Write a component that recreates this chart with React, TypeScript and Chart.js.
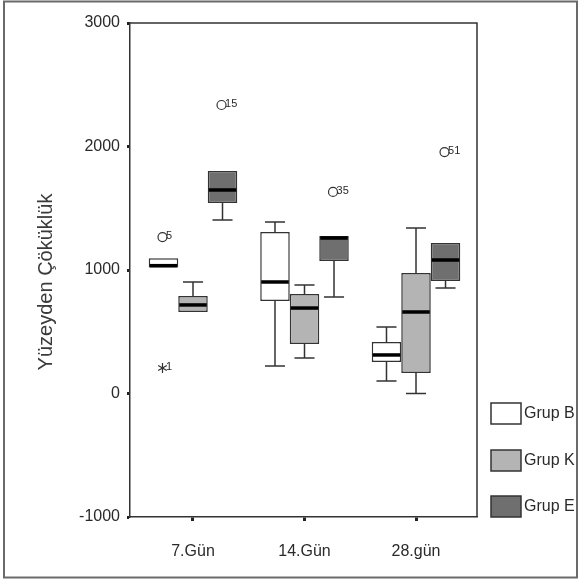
import { useEffect, useRef } from 'react';
import { Chart, registerables } from 'chart.js';

Chart.register(...registerables);

// ---- data ----
const categories = ['7.Gün', '14.Gün', '28.gün'];
const groupNames = ['Grup B', 'Grup K', 'Grup E'];
const groupColors = ['#ffffff', '#b4b4b4', '#6f6f6f'];

// per group: values for [7.Gün, 14.Gün, 28.gün]
const q1B = [1020, 749, 255];
const q3B = [1095, 1308, 417];
const medB = [1035, 903, 312];
const lowB = [1020, 223, 101];
const highB = [1095, 1389, 538];

const q1K = [660, 401, 166];
const q3K = [789, 806, 976];
const medK = [717, 692, 660];
const lowK = [660, 287, 0];
const highK = [903, 879, 1340];

const q1E = [1543, 1073, 911];
const q3E = [1802, 1275, 1219];
const medE = [1648, 1259, 1081];
const lowE = [1405, 781, 854];
const highE = [1802, 1275, 1219];

const outlierGroup = [0, 0, 2, 2, 2];
const outlierCat = [0, 0, 0, 1, 2];
const outlierValue = [1267, 206, 2336, 1632, 1955];
const outlierLabel = ['5', '1', '15', '35', '51'];
const outlierShape = ['circle', 'star', 'circle', 'circle', 'circle'];

const yTicks = [-1000, 0, 1000, 2000, 3000];
const yTitle = 'Yüzeyden Çöküklük';

const q1 = [q1B, q1K, q1E];
const q3 = [q3B, q3K, q3E];
const med = [medB, medK, medE];
const low = [lowB, lowK, lowE];
const high = [highB, highK, highE];

const FONT = "'Liberation Sans', Arial, sans-serif";
const INK = '#2a2a2a';

const extrasPlugin = {
  id: 'boxExtras',
  beforeDraw(chart: any) {
    const { ctx } = chart;
    ctx.save();
    ctx.fillStyle = '#ffffff';
    ctx.fillRect(0, 0, chart.width, chart.height);
    ctx.strokeStyle = '#6a6a6a';
    ctx.lineWidth = 2;
    ctx.strokeRect(4, 1.5, 573, 576);
    ctx.restore();
  },
  afterDatasetsDraw(chart: any) {
    const { ctx, chartArea, scales } = chart;
    const y = scales.y;
    ctx.save();
    // plot frame (top & right)
    ctx.strokeStyle = '#333';
    ctx.lineWidth = 1.5;
    ctx.beginPath();
    ctx.moveTo(chartArea.left, chartArea.top);
    ctx.lineTo(chartArea.right, chartArea.top);
    ctx.lineTo(chartArea.right, chartArea.bottom);
    ctx.stroke();

    // y-axis title
    ctx.save();
    ctx.translate(46, (chartArea.top + chartArea.bottom) / 2 + 12);
    ctx.rotate(-Math.PI / 2);
    ctx.fillStyle = '#3a3a3a';
    ctx.font = `20px ${FONT}`;
    ctx.textAlign = 'center';
    ctx.textBaseline = 'middle';
    ctx.fillText(yTitle, 0, 0);
    ctx.restore();

    chart.data.datasets.forEach((_ds: any, d: number) => {
      const meta = chart.getDatasetMeta(d);
      meta.data.forEach((bar: any, i: number) => {
        const cx = bar.x;
        const w = bar.width;
        const cap = w * 0.68;
        ctx.strokeStyle = '#333';
        ctx.lineWidth = 1.5;
        const yq1 = y.getPixelForValue(q1[d][i]);
        const yq3 = y.getPixelForValue(q3[d][i]);
        const yl = y.getPixelForValue(low[d][i]);
        const yh = y.getPixelForValue(high[d][i]);
        if (high[d][i] > q3[d][i]) {
          ctx.beginPath();
          ctx.moveTo(cx, yq3);
          ctx.lineTo(cx, yh);
          ctx.moveTo(cx - cap / 2, yh);
          ctx.lineTo(cx + cap / 2, yh);
          ctx.stroke();
        }
        if (low[d][i] < q1[d][i]) {
          ctx.beginPath();
          ctx.moveTo(cx, yq1);
          ctx.lineTo(cx, yl);
          ctx.moveTo(cx - cap / 2, yl);
          ctx.lineTo(cx + cap / 2, yl);
          ctx.stroke();
        }
        // median
        const ym = y.getPixelForValue(med[d][i]);
        ctx.strokeStyle = '#000';
        ctx.lineWidth = 3.5;
        ctx.beginPath();
        ctx.moveTo(cx - w / 2 + 1, ym);
        ctx.lineTo(cx + w / 2 - 1, ym);
        ctx.stroke();
      });
    });

    // outliers
    outlierValue.forEach((v, k) => {
      const bar = chart.getDatasetMeta(outlierGroup[k]).data[outlierCat[k]];
      const cx = bar.x - 1;
      const cy = y.getPixelForValue(v);
      ctx.strokeStyle = '#333';
      ctx.lineWidth = 1.2;
      if (outlierShape[k] === 'circle') {
        ctx.beginPath();
        ctx.arc(cx, cy, 4.5, 0, Math.PI * 2);
        ctx.stroke();
      } else {
        ctx.beginPath();
        for (let a = 0; a < 3; a++) {
          const ang = Math.PI / 2 + (a * Math.PI) / 3;
          ctx.moveTo(cx - Math.cos(ang) * 5, cy - Math.sin(ang) * 5);
          ctx.lineTo(cx + Math.cos(ang) * 5, cy + Math.sin(ang) * 5);
        }
        ctx.stroke();
      }
      ctx.fillStyle = INK;
      ctx.font = `11px ${FONT}`;
      ctx.textAlign = 'left';
      ctx.textBaseline = 'middle';
      ctx.fillText(outlierLabel[k], cx + 3.5, cy - 1);
    });

    // legend
    const tops = [403, 450, 496];
    chart.data.datasets.forEach((ds: any, d: number) => {
      const bx = chartArea.right + 14;
      const by = tops[d];
      ctx.fillStyle = ds.backgroundColor;
      ctx.fillRect(bx, by, 30, 21);
      ctx.strokeStyle = '#333';
      ctx.lineWidth = 1.5;
      ctx.strokeRect(bx, by, 30, 21);
      ctx.fillStyle = INK;
      ctx.font = `16px ${FONT}`;
      ctx.textAlign = 'left';
      ctx.textBaseline = 'middle';
      ctx.fillText(ds.label, bx + 33, by + 11);
    });
    ctx.restore();
  },
};

export default function App() {
  const ref = useRef<HTMLCanvasElement | null>(null);
  useEffect(() => {
    if (!ref.current) return;
    const datasets = groupNames.map((name, d) => ({
      label: name,
      data: categories.map((_c, i) => ({ x: i + 1, y: [q1[d][i], q3[d][i]] })),
      backgroundColor: groupColors[d],
      borderColor: '#333',
      borderWidth: 1.5,
      borderSkipped: false,
      barPercentage: 1,
      categoryPercentage: 0.794,
    }));
    const chart = new Chart(ref.current, {
      type: 'bar',
      data: { datasets } as any,
      plugins: [extrasPlugin],
      options: {
        animation: false,
        responsive: false,
        events: [],
        layout: { padding: { top: 23, right: 104, left: 0, bottom: 0 } },
        plugins: { legend: { display: false }, tooltip: { enabled: false } },
        scales: {
          x: {
            type: 'linear',
            min: 0.435,
            max: 3.547,
            offset: false,
            afterFit: (s: any) => { s.height = 64; },
            afterBuildTicks: (s: any) => { s.ticks = categories.map((_c, i) => ({ value: i + 1 })); },
            ticks: {
              callback: (v: any) => categories[Math.round(Number(v)) - 1] ?? '',
              font: { family: FONT, size: 16 },
              color: INK,
              padding: 21,
              maxRotation: 0,
              autoSkip: false,
            },
            grid: { drawOnChartArea: false, offset: false, tickLength: 4, tickWidth: 3, color: '#222' },
            border: { color: '#333', width: 1.5 },
          },
          y: {
            min: -1000,
            max: 3000,
            afterFit: (s: any) => { s.width = 130; },
            afterBuildTicks: (s: any) => { s.ticks = yTicks.map((v) => ({ value: v })); },
            ticks: {
              callback: (v: any) => String(v),
              font: { family: FONT, size: 16 },
              color: INK,
              padding: 7,
            },
            grid: { drawOnChartArea: false, tickLength: 3, tickWidth: 3, color: '#222' },
            border: { color: '#333', width: 1.5 },
          },
        },
      } as any,
    });
    return () => chart.destroy();
  }, []);
  return (
    <div style={{ position: 'fixed', left: 0, top: 0, width: 581, height: 581 }}>
      <canvas ref={ref} width={581} height={581} style={{ display: 'block' }} />
    </div>
  );
}
